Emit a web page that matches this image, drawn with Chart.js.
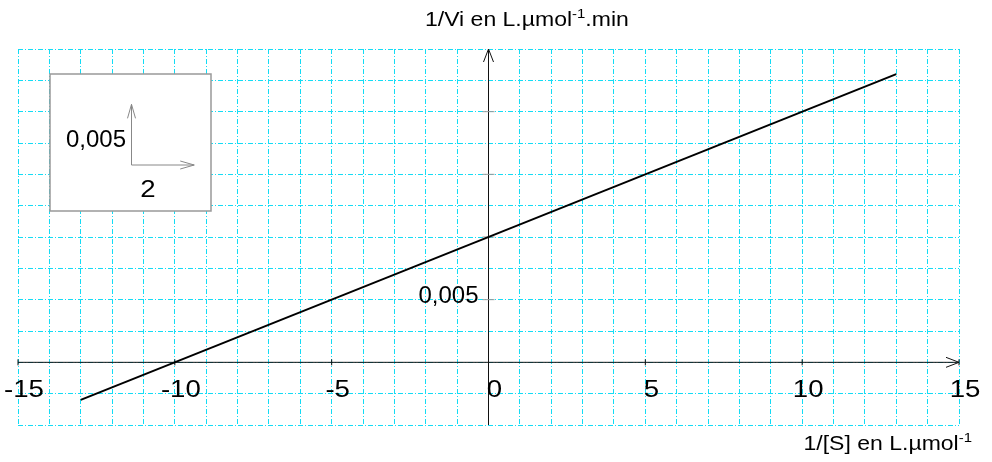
<!DOCTYPE html>
<html>
<head>
<meta charset="utf-8">
<script src="https://cdn.jsdelivr.net/npm/chart.js@4.4.1/dist/chart.umd.min.js"></script>
<style>
  html, body { margin: 0; padding: 0; background: #ffffff; }
  #zone { width: 992px; height: 462px; }
</style>
</head>
<body>
<div id="zone">
  <canvas id="graphe" width="992" height="462"></canvas>
</div>
<script>

// ==========================
// DONNEES
// ==========================
const invS = [-13, 13];                 // 1/[S] en L.µmol-1
const invVi = [-0.003, 0.023];          // 1/Vi en L.µmol-1.min

const xMin = -15, xMax = 15, xPas = 1;
const yMin = -0.005, yMax = 0.025, yPas = 0.0025;

const xGraduations = [-15, -10, -5, 0, 5, 10, 15];
const yGraduations = [0.005];
const yPetitsTraits = [0.005, 0.01, 0.015, 0.02];

const echelleX = 2;
const echelleY = 0.005;

const police = "'Liberation Sans', Arial, sans-serif";
const cyan = "#14dcf5";
const etirement = 1.15;   // texte un peu élargi

function virgule(v){
    return String(v).replace(".", ",");
}

// texte élargi horizontalement
function ecrire(ctx, texte, x, y, align, taille, etire){

    ctx.save();
    ctx.font = taille + "px " + police;
    ctx.textAlign = align;
    ctx.textBaseline = "alphabetic";
    ctx.translate(x, y);
    ctx.scale(etire || 1, 1);
    ctx.fillText(texte, 0, 0);
    ctx.restore();
}

function largeur(ctx, texte, taille){

    ctx.font = taille + "px " + police;
    return ctx.measureText(texte).width * etirement;
}

// ==========================
// AXES, FLECHES, TEXTES
// ==========================
function fleche(ctx, x1, y1, x2, y2, long, demi){

    const a = Math.atan2(y2 - y1, x2 - x1);

    ctx.beginPath();
    ctx.moveTo(x1, y1);
    ctx.lineTo(x2, y2);
    ctx.moveTo(
        x2 - long * Math.cos(a) + demi * Math.sin(a),
        y2 - long * Math.sin(a) - demi * Math.cos(a)
    );
    ctx.lineTo(x2, y2);
    ctx.lineTo(
        x2 - long * Math.cos(a) - demi * Math.sin(a),
        y2 - long * Math.sin(a) + demi * Math.cos(a)
    );
    ctx.stroke();
}

// texte avec exposant "-1"
function texteExposant(ctx, morceaux, xRef, y, alignGauche){

    let total = 0;
    morceaux.forEach(m => {
        m.taille = m.sup ? 13 : 20;
        m.w = largeur(ctx, m.t, m.taille);
        total += m.w;
    });

    let x = alignGauche ? xRef : xRef - total;

    morceaux.forEach(m => {
        ecrire(ctx, m.t, x, m.sup ? y - 8 : y, "left", m.taille, etirement);
        x += m.w;
    });
}

const repere = {

    id: "repere",

    beforeDatasetsDraw(chart){

        const ctx = chart.ctx;
        const sx = chart.scales.x;
        const sy = chart.scales.y;
        const x0 = sx.getPixelForValue(0);
        const y0 = sy.getPixelForValue(0);

        ctx.save();
        ctx.strokeStyle = "#111111";
        ctx.lineWidth = 1;

        // axe des abscisses
        fleche(ctx,
            sx.getPixelForValue(xMin), y0,
            sx.getPixelForValue(xMax), y0,
            13, 5);

        // axe des ordonnées
        fleche(ctx,
            x0, sy.getPixelForValue(yMin),
            x0, sy.getPixelForValue(yMax),
            13, 5);

        // petits traits
        ctx.beginPath();
        xGraduations.forEach(v => {
            const px = sx.getPixelForValue(v);
            ctx.moveTo(px, y0 - 3);
            ctx.lineTo(px, y0 + 3);
        });
        ctx.stroke();

        ctx.strokeStyle = "#999999";
        ctx.beginPath();
        yPetitsTraits.forEach(v => {
            const py = sy.getPixelForValue(v);
            ctx.moveTo(x0 - 6, py);
            ctx.lineTo(x0 + 6, py);
        });
        ctx.stroke();

        ctx.restore();
    },

    afterDraw(chart){

        const ctx = chart.ctx;
        const sx = chart.scales.x;
        const sy = chart.scales.y;
        const x0 = sx.getPixelForValue(0);
        const y0 = sy.getPixelForValue(0);

        ctx.save();
        ctx.fillStyle = "#000000";

        // graduations
        xGraduations.forEach(v => {
            ecrire(ctx, String(v), sx.getPixelForValue(v) + 6, y0 + 35, "center", 24, etirement);
        });

        yGraduations.forEach(v => {
            ecrire(ctx, virgule(v), x0 - 10, sy.getPixelForValue(v) + 3, "right", 24);
        });

        // titres des axes
        texteExposant(ctx, [
            {t: "1/Vi en L.µmol"},
            {t: "-1", sup: true},
            {t: ".min"}
        ], 425, 26, true);

        texteExposant(ctx, [
            {t: "1/[S] en L.µmol"},
            {t: "-1", sup: true}
        ], 972, 450, false);

        // cadre d'échelle
        ctx.fillStyle = "#ffffff";
        ctx.fillRect(50, 74, 161, 137);
        ctx.strokeStyle = "#999999";
        ctx.lineWidth = 1.5;
        ctx.strokeRect(50, 74, 161, 137);

        const ox = 131.5, oy = 165;
        const lx = sx.getPixelForValue(echelleX) - sx.getPixelForValue(0);
        const ly = sy.getPixelForValue(0) - sy.getPixelForValue(echelleY);

        ctx.strokeStyle = "#888888";
        ctx.lineWidth = 1;
        fleche(ctx, ox, oy, ox + lx, oy, 14, 4);
        fleche(ctx, ox, oy, ox, oy - ly + 2, 14, 4);

        ctx.fillStyle = "#000000";
        ecrire(ctx, virgule(echelleY), 126, 147, "right", 24);
        ecrire(ctx, String(echelleX), 148, 197, "center", 24, etirement);

        ctx.restore();
    }
};

// ==========================
// GRAPHIQUE
// ==========================
const points = invS.map((x, i) => ({x: x, y: invVi[i]}));

new Chart(document.getElementById("graphe").getContext("2d"), {

    type: "line",

    data: {
        datasets: [{
            data: points,
            borderColor: "#000000",
            borderWidth: 2,
            pointRadius: 0,
            fill: false,
            tension: 0
        }]
    },

    options: {

        responsive: false,
        animation: false,
        devicePixelRatio: 1,

        layout: {
            padding: {left: 18, right: 33, top: 49, bottom: 37}
        },

        plugins: {
            legend: {display: false},
            tooltip: {enabled: false}
        },

        scales: {

            x: {
                type: "linear",
                min: xMin,
                max: xMax,
                ticks: {
                    display: false,
                    stepSize: xPas,
                    autoSkip: false,
                    maxTicksLimit: 100
                },
                grid: {
                    color: cyan,
                    lineWidth: 1,
                    drawTicks: false
                },
                border: {display: false, dash: [5, 2, 1, 2]}
            },

            y: {
                type: "linear",
                min: yMin,
                max: yMax,
                ticks: {
                    display: false,
                    stepSize: yPas,
                    autoSkip: false,
                    maxTicksLimit: 100
                },
                grid: {
                    color: cyan,
                    lineWidth: 1,
                    drawTicks: false
                },
                border: {display: false, dash: [5, 2, 1, 2]}
            }
        }
    },

    plugins: [repere]
});
</script>
</body>
</html>
